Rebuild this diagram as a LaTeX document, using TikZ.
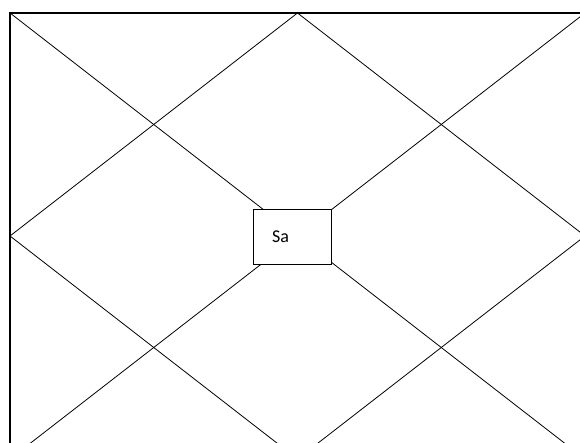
\documentclass[tikz,border=0pt]{standalone}
\usepackage{fontspec}
\setmainfont{Carlito}
\usepackage{xcolor}
\definecolor{ChartLine}{HTML}{000000}

\begin{document}
\begin{tikzpicture}[x=1pt,y=1pt,
  frame/.style={ChartLine,line width=1.4pt},
  house/.style={ChartLine,line width=0.8pt},
  lagna/.style={draw=ChartLine,line width=0.9pt,fill=white,minimum width=78pt,minimum height=55pt,inner sep=0pt}]
\path[use as bounding box] (0,0) rectangle (580,443);
\begin{scope}
\clip (0,0) rectangle (580,443);
% frame corners and side midpoints
\coordinate (tl) at (10,430);
\coordinate (tr) at (585,430);
\coordinate (bl) at (10,-16);
\coordinate (br) at (585,-16);
\coordinate (mt) at (297.5,430);
\coordinate (mr) at (585,207);
\coordinate (mb) at (297.5,-16);
\coordinate (ml) at (10,207);
\draw[frame] (tl) rectangle (br);
\draw[house] (tl) -- (br);
\draw[house] (bl) -- (tr);
\draw[house] (mt) -- (mr) -- (mb) -- (ml) -- cycle;
\end{scope}
\node[lagna] (sa) at (292,206.4) {};
\node[anchor=base west,font=\fontsize{18}{20}\selectfont,inner sep=0pt] (satext) at (272,200.3) {Sa};
\end{tikzpicture}
\end{document}
